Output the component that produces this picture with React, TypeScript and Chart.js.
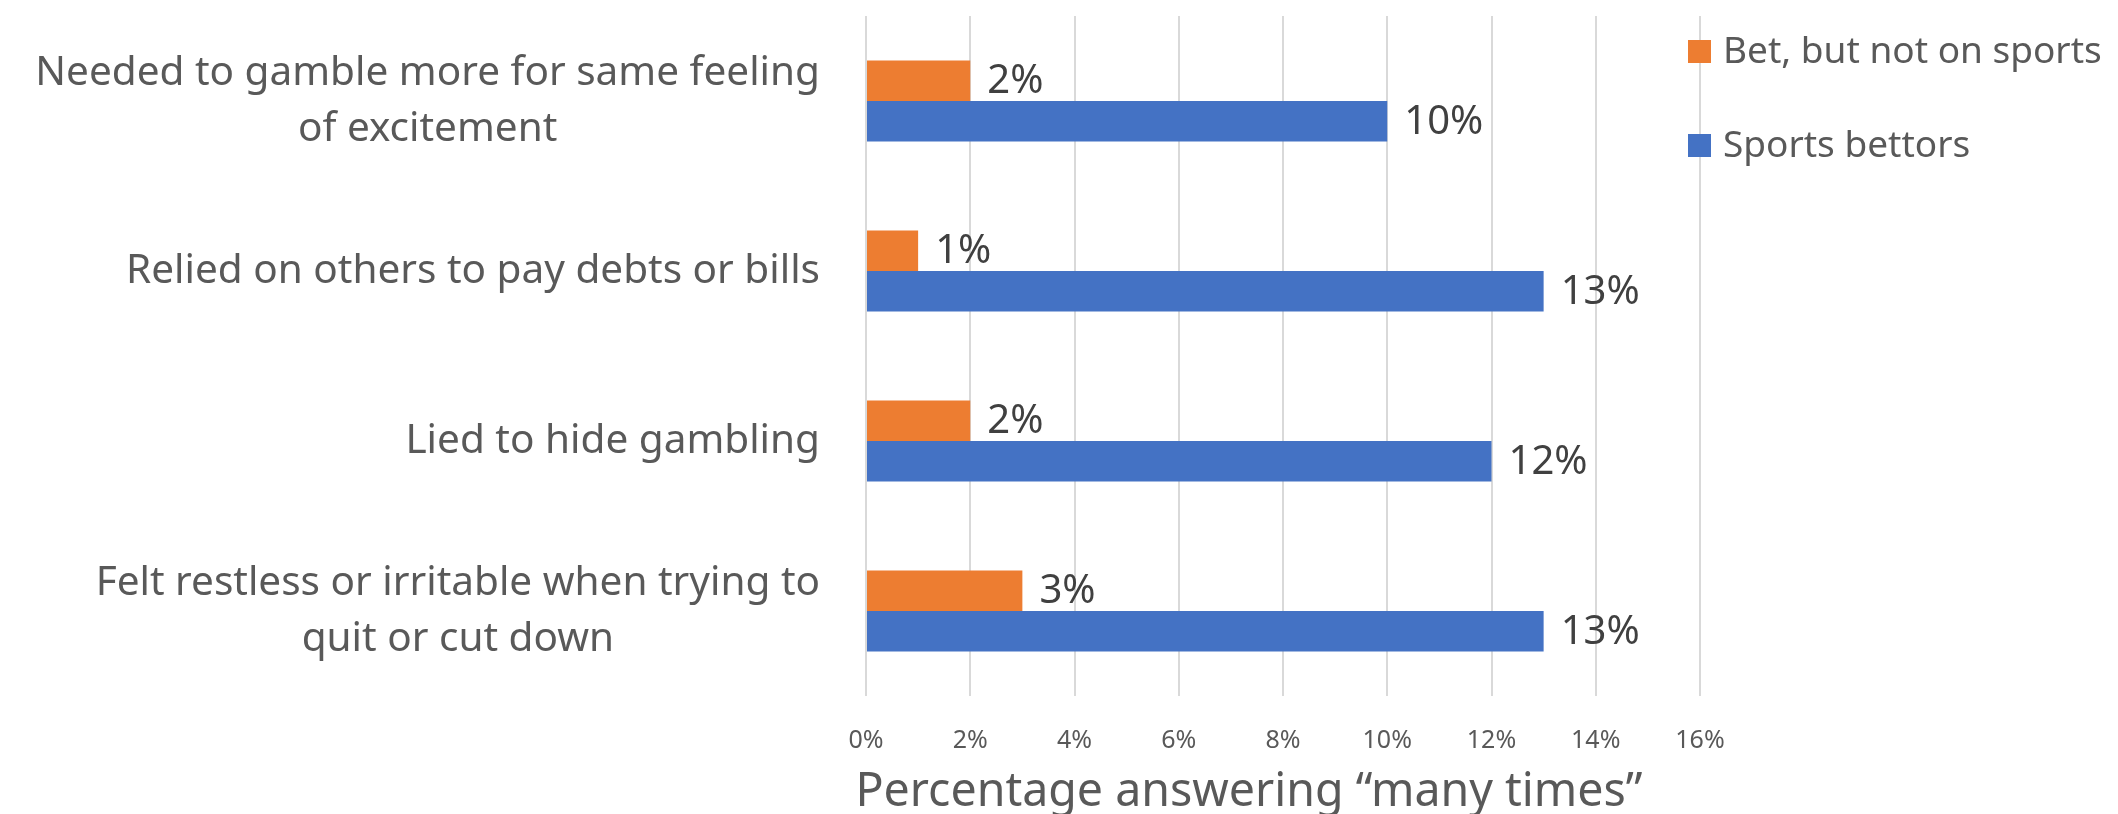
import React, { useEffect, useRef } from "react";
import { Chart, registerables } from "chart.js";

Chart.register(...registerables);

const categories: string[][] = [
  ["Needed to gamble more for same feeling", "of excitement"],
  ["Relied on others to pay debts or bills"],
  ["Lied to hide gambling"],
  ["Felt restless or irritable when trying to", "quit or cut down"],
];
const seriesNames = ["Bet, but not on sports", "Sports bettors"];
const betNotOnSports = [2, 1, 2, 3];
const sportsBettors = [10, 13, 12, 13];
const xMin = 0;
const xMax = 16;
const xStep = 2;
const axisTitle = "Percentage answering \u201Cmany times\u201D";
const seriesColors = ["#ED7D31", "#4472C4"];

const FONT = "'Noto Sans', 'Open Sans', 'DejaVu Sans', sans-serif";
const TEXT = "#595959";

const overlayPlugin = {
  id: "overlay",
  afterDatasetsDraw(chart: any) {
    const ctx = chart.ctx as CanvasRenderingContext2D;
    const area = chart.chartArea;
    ctx.save();

    // data labels
    ctx.font = `40px ${FONT}`;
    ctx.fillStyle = "#404040";
    ctx.textAlign = "left";
    ctx.textBaseline = "middle";
    chart.data.datasets.forEach((ds: any, di: number) => {
      const meta = chart.getDatasetMeta(di);
      meta.data.forEach((el: any, i: number) => {
        ctx.fillText(`${ds.data[i]}%`, el.x + 17, el.y + 1);
      });
    });

    // category labels: block right-aligned, lines centred within block
    const yScale = chart.scales.y;
    ctx.font = `40.5px ${FONT}`;
    ctx.fillStyle = TEXT;
    ctx.textAlign = "center";
    const lineH = 56;
    categories.forEach((lines, i) => {
      const cy = yScale.getPixelForValue(i);
      const w = Math.max(...lines.map((l) => ctx.measureText(l).width));
      const cx = area.left - 46 - w / 2;
      lines.forEach((l, j) => {
        ctx.fillText(l, cx, cy + (j - (lines.length - 1) / 2) * lineH);
      });
    });

    // legend
    ctx.font = `37px ${FONT}`;
    ctx.textAlign = "left";
    const lx = area.right - 12;
    chart.data.datasets.forEach((ds: any, di: number) => {
      const cy = 52 + di * 94;
      ctx.fillStyle = ds.backgroundColor;
      ctx.fillRect(lx, cy - 12, 23, 23);
      ctx.fillStyle = TEXT;
      ctx.fillText(ds.label, lx + 35, cy);
    });

    // axis title
    ctx.font = `46.5px ${FONT}`;
    ctx.textAlign = "center";
    ctx.fillText(axisTitle, (area.left + area.right) / 2 - 34, 793);

    ctx.restore();
  },
};

export default function App() {
  const ref = useRef<HTMLCanvasElement>(null);

  useEffect(() => {
    document.body.style.margin = "0";
    const canvas = ref.current;
    if (!canvas) return;
    const chart = new Chart(canvas, {
      type: "bar",
      data: {
        labels: categories.map((c) => c.join(" ")),
        datasets: [
          {
            label: seriesNames[0],
            data: betNotOnSports,
            backgroundColor: seriesColors[0],
            barPercentage: 1,
            categoryPercentage: 0.476,
          },
          {
            label: seriesNames[1],
            data: sportsBettors,
            backgroundColor: seriesColors[1],
            barPercentage: 1,
            categoryPercentage: 0.476,
          },
        ],
      },
      options: {
        indexAxis: "y",
        animation: false,
        responsive: false,
        devicePixelRatio: 1,
        layout: { padding: { top: 16, right: 418, left: 0, bottom: 0 } },
        plugins: {
          legend: { display: false },
          tooltip: { enabled: false },
        },
        scales: {
          x: {
            min: xMin,
            max: xMax,
            border: { display: false },
            grid: { color: "#D9D9D9", lineWidth: 2, drawTicks: false },
            ticks: {
              stepSize: xStep,
              padding: 30,
              color: TEXT,
              font: { family: FONT, size: 25 },
              callback: (v: any) => `${v}%`,
            },
            afterFit: (s: any) => {
              s.height = 118;
            },
          },
          y: {
            border: { display: false },
            grid: { display: false, drawTicks: false },
            ticks: { display: false },
            afterFit: (s: any) => {
              s.width = 866;
            },
          },
        },
      },
      plugins: [overlayPlugin],
    });
    return () => chart.destroy();
  }, []);

  return (
    <div style={{ width: 2118, height: 814, background: "#fff" }}>
      <canvas ref={ref} width={2118} height={814} style={{ display: "block" }} />
    </div>
  );
}
